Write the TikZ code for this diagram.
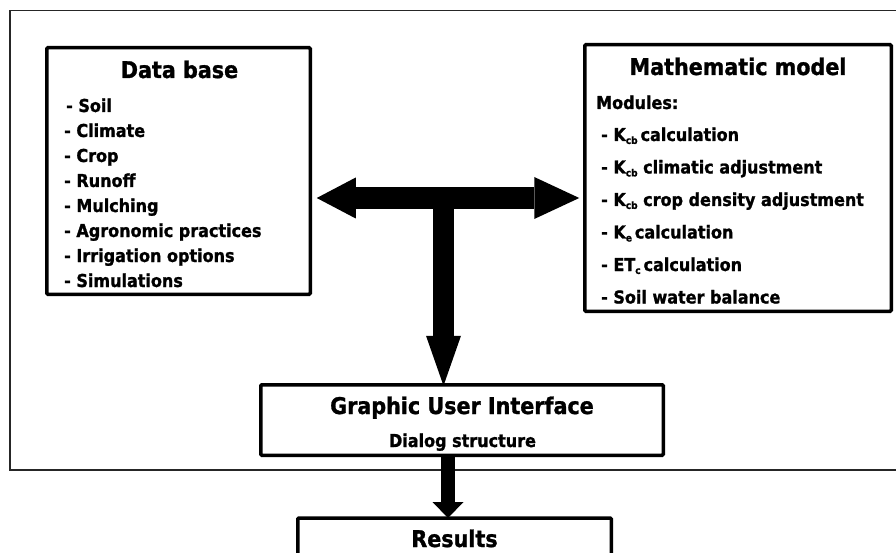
\documentclass[tikz,border=0pt]{standalone}
\usepackage{fontspec}
\setmainfont{DejaVu Sans Condensed Bold}[FakeBold=1.2]
\usetikzlibrary{arrows.meta}
\newcommand\sbs[1]{\raisebox{-0.3ex}{\fontsize{10}{10}\selectfont #1}}
\newcommand\ttlfont{\fontsize{23}{25}\selectfont}
\newcommand\itmfont{\fontsize{17.8}{19}\selectfont}
\newcommand\subfont{\fontsize{17.8}{19}\selectfont}
\tikzset{
  box/.style={draw, line width=3.5pt, rounded corners=1.2pt, inner sep=0pt},
  itm/.style={anchor=base west, inner sep=0pt, font=\itmfont},
  ttl/.style={anchor=base, inner sep=0pt, font=\ttlfont},
  frame/.style={draw=black!85, line width=1.3pt},
}
\begin{document}
\begin{tikzpicture}[x=1pt,y=-1pt]
\useasboundingbox (0,0) rectangle (896,553);
\clip (0,0) rectangle (896,553);
\fill[white] (0,0) rectangle (896,553);
% outer frame
\node[frame, inner sep=0pt, minimum width=900pt, minimum height=459.5pt] (outer) at (460,240.25) {};
% boxes
\node[box, minimum width=263.5pt, minimum height=246.5pt] (db) at (178.5,171) {};
\node[box, minimum width=306.5pt, minimum height=266.5pt] (mm) at (738,178) {};
\node[box, minimum width=402.5pt, minimum height=70.5pt] (gui) at (462,420) {};
\node[box, minimum width=313.5pt, minimum height=90pt] (res) at (454.5,563) {};
% Data base texts
\node[ttl] (dbt) at (179.5,78) {Data base};
\node[itm] (d1) at (66,112) {- Soil};
\node[itm] (d2) at (64,137) {- Climate};
\node[itm] (d3) at (64,162) {- Crop};
\node[itm] (d4) at (64,187) {- Runoff};
\node[itm] (d5) at (64,212) {- Mulching};
\node[itm] (d6) at (64,237) {- Agronomic practices};
\node[itm] (d7) at (64,262) {- Irrigation options};
\node[itm] (d8) at (64,287) {- Simulations};
% Mathematic model texts
\node[ttl] (mmt) at (738,75) {Mathematic model};
\node[itm] (m0) at (596,109) {Modules:};
\node[itm] (m1) at (601,141) {- K\sbs{cb}\,calculation};
\node[itm] (m2) at (601,173.5) {- K\sbs{cb} climatic adjustment};
\node[itm] (m3) at (601,206) {- K\sbs{cb} crop density adjustment};
\node[itm] (m4) at (601,238.5) {- K\sbs{e}\,calculation};
\node[itm] (m5) at (601,271) {- ET\sbs{c}\,calculation};
\node[itm] (m6) at (601,303.5) {- Soil water balance};
% GUI texts
\node[ttl] (guit) at (462,414) {Graphic User Interface};
\node[anchor=base, inner sep=0pt, font=\subfont] (guis) at (462.5,447) {Dialog structure};
% Results
\node[ttl] (rest) at (454.5,547) {Results};
% arrows
\coordinate (j) at (443.5,198);
\coordinate (k) at (448,460);
\draw[line width=22pt,
  {Triangle[length=39pt,width=41pt,line width=0pt]}-{Triangle[length=45pt,width=42pt,line width=0pt]}]
  ([xshift=4.75pt]db.east |- j) -- ([xshift=-3.75pt]mm.west |- j);
\draw[line width=21pt, -{Triangle[length=50pt,width=35pt,line width=0pt]}]
  (j) -- ([yshift=-2.75pt]j |- gui.north);
\draw[line width=14pt, -{Triangle[length=16pt,width=31pt,line width=0pt]}]
  (k |- gui.south) -- ([yshift=-1.75pt]k |- res.north);
\end{tikzpicture}
\end{document}
